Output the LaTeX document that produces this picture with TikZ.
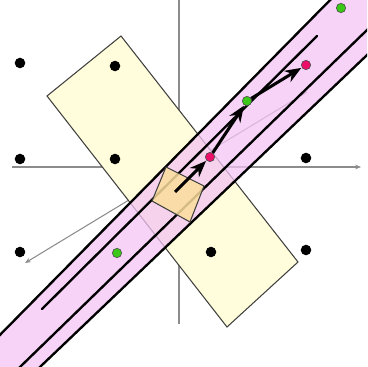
\documentclass[tikz,border=0pt]{standalone}
\usetikzlibrary{arrows.meta}
\definecolor{bandpink}{RGB}{244,196,244}
\definecolor{quadorange}{RGB}{251,222,156}
\definecolor{ptgreen}{RGB}{60,200,25}
\definecolor{ptred}{RGB}{235,15,105}
\begin{document}
\begin{tikzpicture}[x=0.03cm,y=-0.03cm,>=Stealth]
\tikzstyle{lat}=[circle,fill=black,inner sep=0pt,minimum size=9pt]
\tikzstyle{gpt}=[circle,draw=black!70,fill=ptgreen,inner sep=0pt,minimum size=8pt,line width=0.5pt]
\tikzstyle{rpt}=[circle,draw=black!70,fill=ptred,inner sep=0pt,minimum size=8pt,line width=0.5pt]
\tikzstyle{axis}=[draw=black!45,line width=1.3pt]
\tikzstyle{bline}=[line width=2pt,line cap=round]
\tikzstyle{move}=[-{Stealth[length=14pt,width=11pt]},line width=2.6pt,shorten >=0.5pt]
\clip (0,0) rectangle (367,367);
\coordinate (xl) at (12,167); \coordinate (xr) at (361,167); \coordinate (yt) at (179,0); \coordinate (yb) at (179,324);
\draw[axis,-{Stealth[length=5pt,width=4pt]}] (xl) -- (xr); \draw[axis] (yt) -- (yb);
\coordinate (g1) at (307,92); \coordinate (g2) at (25,263);
\draw[draw=black!45,line width=0.9pt,-{Stealth[length=5pt,width=4pt]}] (g1) -- (g2);
\coordinate (r1) at (121,36); \coordinate (r2) at (298,262); \coordinate (r3) at (227,327); \coordinate (r4) at (47,96);
\filldraw[fill=yellow!14,draw=black!75,line width=0.9pt] (r1) -- (r2) -- (r3) -- (r4) -- cycle;
\coordinate (a1) at (-10,345); \coordinate (a2) at (340,-10);
\coordinate (b1) at (10,376.7); \coordinate (b2) at (377,20.3);
\coordinate (c1) at (30,376.5); \coordinate (c2) at (377,45.5);
\coordinate (s1) at (42,309); \coordinate (s2) at (317,36);
\fill[bandpink,fill opacity=0.75] (a1) -- (a2) -- (377,-10) -- (c2) -- (c1) -- (-10,376.5) -- cycle;
\draw[bline] (a1) -- (a2); \draw[bline] (b1) -- (b2); \draw[bline] (c1) -- (c2); \draw[bline] (s1) -- (s2);
\coordinate (q1) at (166,167); \coordinate (q2) at (204,186); \coordinate (q3) at (190,222); \coordinate (q4) at (152,201);
\filldraw[fill=quadorange,fill opacity=0.85,draw=black!75,line width=0.9pt] (q1) -- (q2) -- (q3) -- (q4) -- cycle;
\node[lat] (p1) at (20,63) {}; \node[lat] (p2) at (115,66) {}; \node[lat] (p3) at (20,159) {}; \node[lat] (p4) at (115,159) {};
\node[lat] (p5) at (306,158) {}; \node[lat] (p6) at (20,252) {}; \node[lat] (p7) at (211,252) {}; \node[lat] (p8) at (306,250) {};
\node[gpt] (n1) at (117,253) {}; \node[gpt] (n2) at (247,101) {}; \node[gpt] (n3) at (341,8) {};
\node[rpt] (m1) at (210,157) {}; \node[rpt] (m2) at (306,65) {};
\coordinate (st) at (175,192);
\draw[move] (st) -- (m1); \draw[move] (m1) -- (n2); \draw[move] (n2) -- (m2);
\end{tikzpicture}
\end{document}
